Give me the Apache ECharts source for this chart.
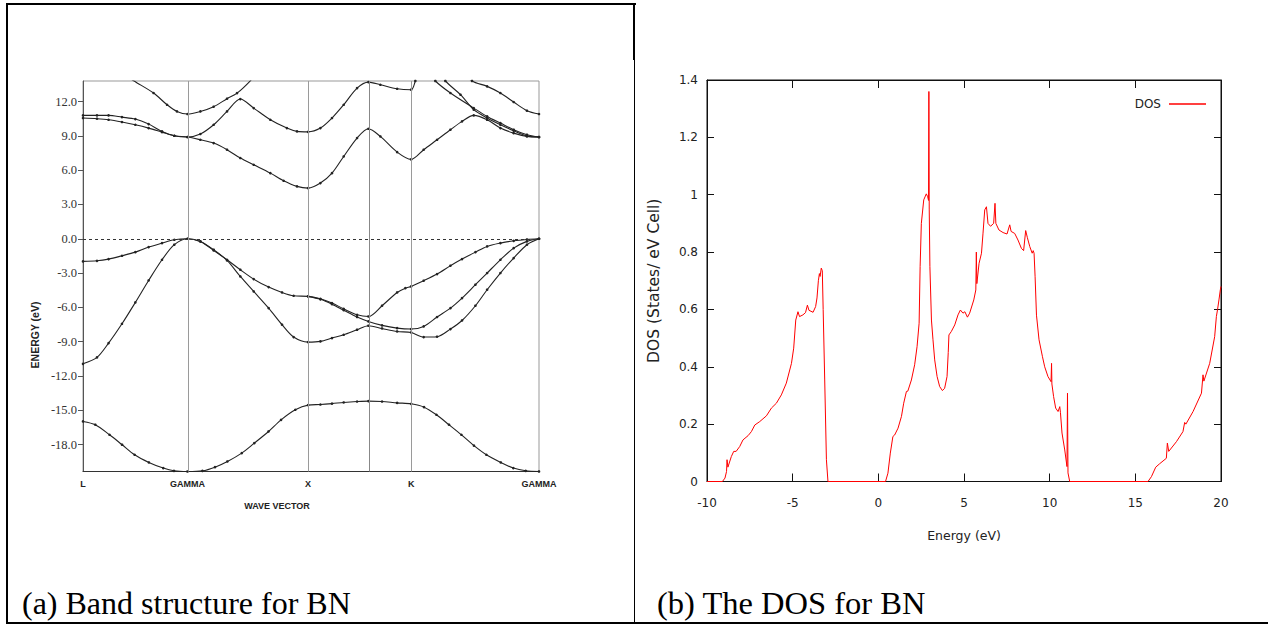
<!DOCTYPE html>
<html><head><meta charset="utf-8">
<script src="https://cdn.jsdelivr.net/npm/echarts@6/dist/echarts.min.js"></script>
<style>
html,body{margin:0;padding:0;background:#fff;}
#wrap{position:relative;width:1268px;height:625px;overflow:hidden;background:#fff;}
#chart{position:absolute;left:0;top:0;width:1268px;height:625px;}
.b{position:absolute;background:#000;}
.cap{position:absolute;font-family:'Liberation Serif','Times New Roman',serif;font-size:32px;line-height:32px;color:#000;white-space:nowrap;}
</style></head><body>
<div id="wrap">
<div id="chart"></div>
<div class="b" style="left:6px;top:3px;width:630px;height:2px"></div>
<div class="b" style="left:6px;top:3px;width:2px;height:621px"></div>
<div class="b" style="left:6px;top:622px;width:1262px;height:2px"></div>
<div class="b" style="left:633px;top:3px;width:2px;height:57px"></div>
<div class="b" style="left:634px;top:60px;width:1px;height:563px"></div>
<div class="cap" style="left:22px;top:587px">(a) Band structure for BN</div>
<div class="cap" style="left:657px;top:587px;font-size:32.5px">(b) The DOS for BN</div>
</div>
<script>
// ---------- Band structure data ----------
const kSym = [0, 0.866, 1.866, 2.366, 2.72, 3.78];
const kSymLabels = ['L', 'GAMMA', 'X', '', 'K', 'GAMMA'];
const energyTicks = [-18, -15, -12, -9, -6, -3, 0, 3, 6, 9, 12];

const bandS = [[0,-15.98],[0.102,-16.27],[0.22,-17.15],[0.324,-18.02],[0.428,-18.9],[0.546,-19.57],[0.665,-20.06],[0.754,-20.3],[0.866,-20.36],[0.99,-20.3],[1.094,-19.98],[1.197,-19.48],[1.316,-18.75],[1.42,-17.88],[1.538,-16.86],[1.642,-15.84],[1.76,-14.96],[1.866,-14.55],[1.968,-14.5],[2.064,-14.42],[2.161,-14.32],[2.272,-14.24],[2.366,-14.2],[2.479,-14.24],[2.604,-14.36],[2.72,-14.44],[2.827,-14.73],[2.93,-15.4],[3.034,-16.27],[3.137,-17.15],[3.241,-18.1],[3.344,-18.9],[3.463,-19.57],[3.567,-20.06],[3.67,-20.3],[3.78,-20.36]];
const bandV1 = [[0,-1.98],[0.116,-1.93],[0.212,-1.78],[0.323,-1.49],[0.434,-1.17],[0.544,-0.73],[0.655,-0.38],[0.757,-0.09],[0.866,0],[0.973,-0.23],[1.083,-1.02],[1.194,-1.84],[1.304,-2.71],[1.415,-3.53],[1.539,-4.23],[1.65,-4.7],[1.746,-4.99],[1.866,-5.04],[1.968,-5.25],[2.064,-5.63],[2.161,-6.13],[2.272,-6.65],[2.366,-6.8],[2.479,-5.86],[2.604,-4.7],[2.672,-4.32],[2.72,-4.17],[2.824,-3.67],[2.935,-3.09],[3.046,-2.36],[3.142,-1.78],[3.253,-1.17],[3.35,-0.67],[3.46,-0.38],[3.57,-0.18],[3.68,-0.06],[3.78,0]];
const bandV1b = [[1.866,-5.04],[1.968,-5.3],[2.064,-5.72],[2.161,-6.25],[2.272,-6.85],[2.366,-7.23],[2.479,-7.58],[2.604,-7.82],[2.72,-7.9],[2.824,-7.67],[2.935,-6.85],[3.046,-6.07],[3.142,-5.19],[3.253,-4.02],[3.35,-3.0],[3.46,-1.84],[3.57,-0.82],[3.68,-0.23],[3.78,0]];
const bandV2 = [[0,-10.94],[0.116,-10.38],[0.212,-9.13],[0.323,-7.44],[0.434,-5.57],[0.544,-3.65],[0.655,-1.84],[0.757,-0.52],[0.866,0],[0.973,-0.23],[1.083,-0.96],[1.194,-1.9],[1.304,-3.3],[1.415,-4.61],[1.539,-6.07],[1.65,-7.52],[1.746,-8.6],[1.866,-9.04],[1.968,-8.98],[2.064,-8.69],[2.161,-8.4],[2.272,-7.96],[2.366,-7.61],[2.479,-7.85],[2.604,-8.11],[2.72,-8.2],[2.824,-8.6],[2.935,-8.57],[3.046,-7.9],[3.142,-7.15],[3.253,-5.86],[3.35,-4.46],[3.46,-3.0],[3.57,-1.69],[3.68,-0.52],[3.78,0]];
const bandC1 = [[0,10.56],[0.116,10.5],[0.212,10.41],[0.323,10.21],[0.434,9.97],[0.544,9.68],[0.655,9.33],[0.757,9.01],[0.866,8.9],[0.973,8.66],[1.083,8.37],[1.194,7.79],[1.304,7.06],[1.415,6.47],[1.553,5.74],[1.663,5.07],[1.774,4.58],[1.866,4.43],[1.968,4.87],[2.064,5.74],[2.161,7.2],[2.272,8.81],[2.366,9.62],[2.465,8.95],[2.604,7.58],[2.72,6.94],[2.824,7.79],[2.935,8.66],[3.046,9.54],[3.142,10.27],[3.239,10.79],[3.35,10.41],[3.46,9.68],[3.57,9.24],[3.68,8.95],[3.78,8.9]];
const bandC2 = [[0,10.79],[0.116,10.79],[0.212,10.79],[0.323,10.64],[0.434,10.47],[0.544,10.03],[0.655,9.39],[0.757,9.01],[0.866,8.9],[0.973,9.16],[1.083,9.97],[1.194,11.14],[1.304,12.22],[1.415,11.43],[1.553,10.41],[1.69,9.68],[1.774,9.39],[1.866,9.35],[1.968,9.68],[2.064,10.56],[2.161,11.72],[2.272,13.18],[2.366,13.7],[2.465,13.47],[2.604,13.12],[2.72,13.04],[2.755,13.8],[2.8,15.2]];
const bandC3 = [[0.25,15.0],[0.42,13.82],[0.585,12.75],[0.697,11.72],[0.779,11.14],[0.866,10.91],[0.973,11.14],[1.083,11.55],[1.194,12.25],[1.277,12.74],[1.387,13.82],[1.5,15.2]];
const bandC4 = [[2.85,14.8],[2.921,13.8],[3.046,12.75],[3.239,11.43],[3.35,10.7],[3.46,10.12],[3.57,9.54],[3.68,9.1],[3.78,8.9]];
const bandC5 = [[2.93,14.8],[3.004,13.8],[3.129,12.6],[3.239,11.29],[3.35,10.56],[3.46,9.97],[3.57,9.45],[3.68,9.0],[3.78,8.9]];
const bandC6 = [[3.1,15.0],[3.225,13.8],[3.35,13.33],[3.46,12.75],[3.57,11.96],[3.68,11.2],[3.78,10.91]];

// ---------- DOS data: [energy (eV), DOS] ----------
const dosPoints = [[-10,0],[-9.1,0],[-8.95,0.012],[-8.86,0.035],[-8.83,0.076],[-8.78,0.05],[-8.58,0.087],[-8.44,0.105],[-8.3,0.105],[-8.09,0.122],[-7.9,0.145],[-7.6,0.16],[-7.41,0.174],[-7.21,0.197],[-6.92,0.209],[-6.53,0.229],[-6.24,0.256],[-5.95,0.273],[-5.66,0.302],[-5.37,0.343],[-5.07,0.412],[-4.94,0.465],[-4.82,0.563],[-4.69,0.592],[-4.6,0.575],[-4.4,0.581],[-4.25,0.589],[-4.14,0.615],[-4.05,0.597],[-3.81,0.59],[-3.66,0.61],[-3.58,0.64],[-3.5,0.70],[-3.44,0.725],[-3.4,0.715],[-3.33,0.744],[-3.27,0.735],[-3.22,0.6],[-3.13,0.354],[-3.03,0.076],[-2.94,0],
[0.42,0],[0.56,0.029],[0.7,0.099],[0.85,0.157],[0.95,0.162],[1.15,0.186],[1.35,0.227],[1.48,0.273],[1.64,0.314],[1.72,0.315],[1.93,0.354],[2.12,0.407],[2.26,0.47],[2.38,0.552],[2.44,0.75],[2.51,0.9],[2.65,0.982],[2.8,1.003],[2.88,0.993],[2.93,0.98],[2.95,1.36],[2.97,0.95],[3.01,0.75],[3.1,0.563],[3.19,0.494],[3.29,0.424],[3.43,0.366],[3.58,0.331],[3.74,0.317],[3.87,0.325],[4.01,0.366],[4.08,0.45],[4.12,0.511],[4.26,0.523],[4.46,0.546],[4.65,0.581],[4.79,0.598],[4.94,0.587],[5.05,0.592],[5.2,0.573],[5.33,0.587],[5.57,0.633],[5.69,0.668],[5.72,0.8],[5.75,0.69],[5.88,0.761],[6.02,0.796],[6.11,0.866],[6.21,0.947],[6.31,0.958],[6.4,0.9],[6.55,0.89],[6.73,0.9],[6.81,0.97],[6.86,0.9],[7.04,0.877],[7.28,0.868],[7.51,0.863],[7.67,0.895],[7.75,0.872],[7.96,0.865],[8.15,0.842],[8.35,0.813],[8.48,0.805],[8.6,0.875],[8.7,0.85],[8.84,0.819],[8.98,0.796],[9.04,0.805],[9.09,0.796],[9.15,0.714],[9.23,0.58],[9.38,0.494],[9.58,0.435],[9.71,0.4],[9.9,0.366],[10.08,0.348],[10.11,0.412],[10.13,0.34],[10.23,0.296],[10.35,0.256],[10.49,0.244],[10.59,0.261],[10.63,0.24],[10.72,0.169],[10.88,0.11],[11.01,0.052],[11.04,0.308],[11.07,0.03],[11.17,0],
[15.74,0],[15.94,0.017],[16.19,0.05],[16.42,0.062],[16.81,0.081],[16.87,0.134],[16.95,0.105],[17.4,0.139],[17.78,0.174],[17.88,0.206],[17.95,0.2],[18.37,0.244],[18.86,0.308],[18.95,0.372],[19.0,0.35],[19.34,0.412],[19.63,0.505],[19.73,0.575],[19.8,0.6],[19.88,0.633],[19.96,0.668],[20,0.68]];

// ---------- Chart ----------
const chart = echarts.init(document.getElementById('chart'), null, {renderer: 'svg'});
const bands = [bandS, bandV1, bandV1b, bandV2, bandC1, bandC2, bandC3, bandC4, bandC5, bandC6];

const bandSeries = bands.map((b, i) => {
  const s = {
    type: 'line', xAxisIndex: 0, yAxisIndex: 0, data: b,
    smooth: 0.3, clip: true, silent: true,
    symbol: 'circle', symbolSize: 2.6, showSymbol: true,
    itemStyle: {color: '#222'},
    lineStyle: {color: '#222', width: 1.1},
    z: 3
  };
  if (i === 0) {
    s.markLine = {
      silent: true, symbol: 'none', label: {show: false}, animation: false,
      data: [
        {xAxis: kSym[1], lineStyle: {color: '#9a9a9a', width: 1, type: 'solid'}},
        {xAxis: kSym[2], lineStyle: {color: '#9a9a9a', width: 1, type: 'solid'}},
        {xAxis: kSym[3], lineStyle: {color: '#888', width: 1, type: 'solid'}},
        {xAxis: kSym[4], lineStyle: {color: '#9a9a9a', width: 1, type: 'solid'}},
        {yAxis: 0, lineStyle: {color: '#333', width: 1, type: [3, 3]}}
      ]
    };
  }
  return s;
});

const option = {
  animation: false,
  backgroundColor: 'transparent',
  grid: [
    {left: 83, top: 81, width: 456, height: 390.5, show: true, borderColor: '#999', borderWidth: 1, containLabel: false},
    {left: 707, top: 80, width: 514, height: 401.5, show: true, borderColor: '#111', borderWidth: 1, containLabel: false}
  ],
  xAxis: [
    {gridIndex: 0, type: 'value', min: 0, max: kSym[5],
     axisLine: {show: true, onZero: false, lineStyle: {color: '#333', width: 1}},
     axisTick: {show: false}, splitLine: {show: false},
     axisLabel: {customValues: [kSym[0], kSym[1], kSym[2], kSym[4], kSym[5]], margin: 8,
       fontFamily: 'Liberation Sans', fontWeight: 'bold', fontSize: 9, color: '#222',
       formatter: v => { let bi = 0; kSym.forEach((k, i) => { if (Math.abs(k - v) < Math.abs(kSym[bi] - v)) bi = i; }); return kSymLabels[bi]; }}},
    {gridIndex: 1, type: 'value', min: -10, max: 20, interval: 5, position: 'bottom',
     axisLine: {show: true, onZero: false, lineStyle: {color: '#111', width: 1}},
     axisTick: {show: true, inside: true, length: 8, lineStyle: {color: '#111'}},
     splitLine: {show: false},
     axisLabel: {margin: 15, fontFamily: 'DejaVu Sans', fontSize: 12, color: '#222'},
     name: 'Energy (eV)', nameLocation: 'middle', nameGap: 47,
     nameTextStyle: {fontFamily: 'DejaVu Sans', fontSize: 12.5, color: '#222'}},
    {gridIndex: 1, type: 'value', min: -10, max: 20, interval: 5, position: 'top',
     axisLine: {show: true, onZero: false, lineStyle: {color: '#111', width: 1}},
     axisTick: {show: true, inside: true, length: 8, lineStyle: {color: '#111'}},
     splitLine: {show: false}, axisLabel: {show: false}}
  ],
  yAxis: [
    {gridIndex: 0, type: 'value', min: -20.36, max: 13.8,
     axisLine: {show: true, onZero: false, lineStyle: {color: '#555', width: 1}},
     axisTick: {show: true, length: 5, customValues: energyTicks, lineStyle: {color: '#555'}},
     splitLine: {show: false},
     axisLabel: {customValues: energyTicks, margin: 6, fontFamily: 'Liberation Serif', fontSize: 12.5, color: '#333',
       verticalAlign: 'middle', padding: [0, 0, 7, 0], formatter: v => v.toFixed(1)}},
    {gridIndex: 1, type: 'value', min: 0, max: 1.4, interval: 0.2, position: 'left',
     axisLine: {show: true, onZero: false, lineStyle: {color: '#111', width: 1}},
     axisTick: {show: true, inside: true, length: 7, lineStyle: {color: '#111'}},
     splitLine: {show: false},
     axisLabel: {margin: 9, fontFamily: 'DejaVu Sans', fontSize: 12, color: '#222'},
     name: 'DOS (States/ eV Cell)', nameLocation: 'middle', nameGap: 45, nameRotate: 90,
     nameTextStyle: {fontFamily: 'DejaVu Sans', fontSize: 15.5, color: '#222'}},
    {gridIndex: 1, type: 'value', min: 0, max: 1.4, interval: 0.2, position: 'right',
     axisLine: {show: true, onZero: false, lineStyle: {color: '#111', width: 1}},
     axisTick: {show: true, inside: true, length: 7, lineStyle: {color: '#111'}},
     splitLine: {show: false}, axisLabel: {show: false}}
  ],
  legend: {
    data: [{name: 'DOS', icon: 'rect'}], right: 62, top: 98, align: 'right', orient: 'horizontal',
    padding: 0, itemWidth: 37, itemHeight: 1.5, itemGap: 0, selectedMode: false,
    itemStyle: {color: '#ff0000', borderWidth: 0},
    textStyle: {fontFamily: 'DejaVu Sans', fontSize: 12, color: '#222', padding: [0, 3, 0, 0]}
  },
  graphic: [
    {type: 'text', x: 35, y: 335, rotation: Math.PI / 2, silent: true,
     style: {text: 'ENERGY (eV)', fontFamily: 'Liberation Sans', fontWeight: 'bold', fontSize: 10.5, fill: '#222', align: 'center', verticalAlign: 'middle'}},
    {type: 'text', x: 277, y: 506, silent: true,
     style: {text: 'WAVE VECTOR', fontFamily: 'Liberation Sans', fontWeight: 'bold', fontSize: 9, fill: '#222', align: 'center', verticalAlign: 'middle'}}
  ],
  series: bandSeries.concat([
    {name: 'DOS', type: 'line', xAxisIndex: 1, yAxisIndex: 1, data: dosPoints,
     symbol: 'none', smooth: false, clip: true, silent: true,
     itemStyle: {color: '#ff0000'}, lineStyle: {color: '#ff0000', width: 1}}
  ])
};
chart.setOption(option);
</script>
</body></html>
